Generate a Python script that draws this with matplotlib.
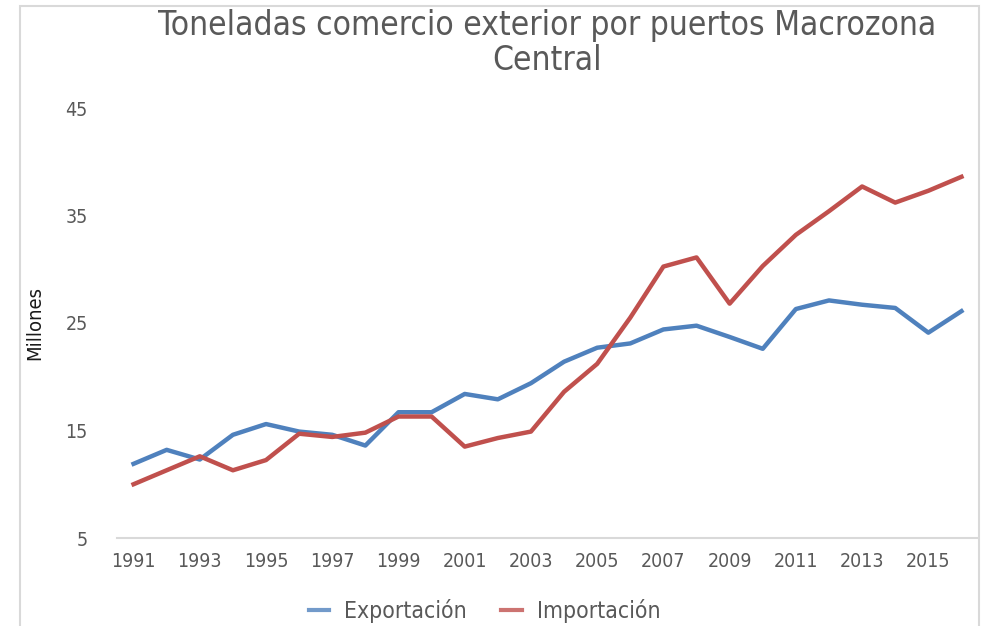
import matplotlib
matplotlib.use('Agg')
import matplotlib.pyplot as plt
from matplotlib.patches import Rectangle

# Millones de toneladas por año
years = list(range(1991, 2017))
exportacion = [11.9, 13.2, 12.3, 14.6, 15.6, 14.9, 14.6, 13.6, 16.7, 16.7,
               18.4, 17.9, 19.4, 21.4, 22.7, 23.1, 24.4, 24.75, 23.7, 22.6,
               26.3, 27.1, 26.7, 26.4, 24.1, 26.1]
importacion = [10.0, 11.3, 12.6, 11.3, 12.25, 14.7, 14.4, 14.8, 16.3, 16.3,
               13.5, 14.3, 14.9, 18.6, 21.2, 25.5, 30.25, 31.1, 26.8, 30.3,
               33.2, 35.4, 37.7, 36.2, 37.3, 38.6]
y_ticks = [5, 15, 25, 35, 45]
x_labels = years[::2]

plt.rcParams['font.family'] = ['DejaVu Sans']
plt.rcParams['font.stretch'] = 'condensed'

W, H = 983, 626
fig = plt.figure(figsize=(W / 100, H / 100), dpi=100)

# light frame around the chart
fig.patches.append(Rectangle((20 / W, -0.1), 959 / W, 1.1 - 6 / H,
                             transform=fig.transFigure, fill=False,
                             edgecolor='#d9d9d9', linewidth=1.5))

ax = fig.add_axes([117 / W, 1 - 538 / H, (978 - 117) / W, (538 - 108) / H])

ax.plot(years, exportacion, color='#4f81bd', linewidth=3.2,
        label='Exportación', solid_joinstyle='round')
ax.plot(years, importacion, color='#c0504d', linewidth=3.2,
        label='Importación', solid_joinstyle='round')

ax.set_xlim(1990.5, 2016.5)
ax.set_ylim(5, 45)
ax.set_yticks(y_ticks)
ax.set_xticks(x_labels)
ax.tick_params(axis='both', length=0, labelsize=14, labelcolor='#595959')
ax.tick_params(axis='y', pad=21)
ax.tick_params(axis='x', pad=10)

for side in ('top', 'right', 'left'):
    ax.spines[side].set_visible(False)
ax.spines['bottom'].set_color('#d9d9d9')
ax.spines['bottom'].set_linewidth(1.5)

ax.set_ylabel('Millones', fontsize=14.5, color='#1a1a1a', labelpad=15)

fig.text((117 + 978) / 2 / W, 1 - 43 / H,
         'Toneladas comercio exterior por puertos Macrozona\nCentral',
         ha='center', va='center', fontsize=24, color='#595959',
         linespacing=1.1)

leg = ax.legend(loc='center', bbox_to_anchor=(0.427, -0.17), ncol=2,
                frameon=False, fontsize=16.5, labelcolor='#595959',
                handlelength=0.9, columnspacing=1.5, handletextpad=0.65)
for line in leg.get_lines():
    line.set_linewidth(3)
    line.set_alpha(0.8)

fig.savefig('out.png', dpi=100)
